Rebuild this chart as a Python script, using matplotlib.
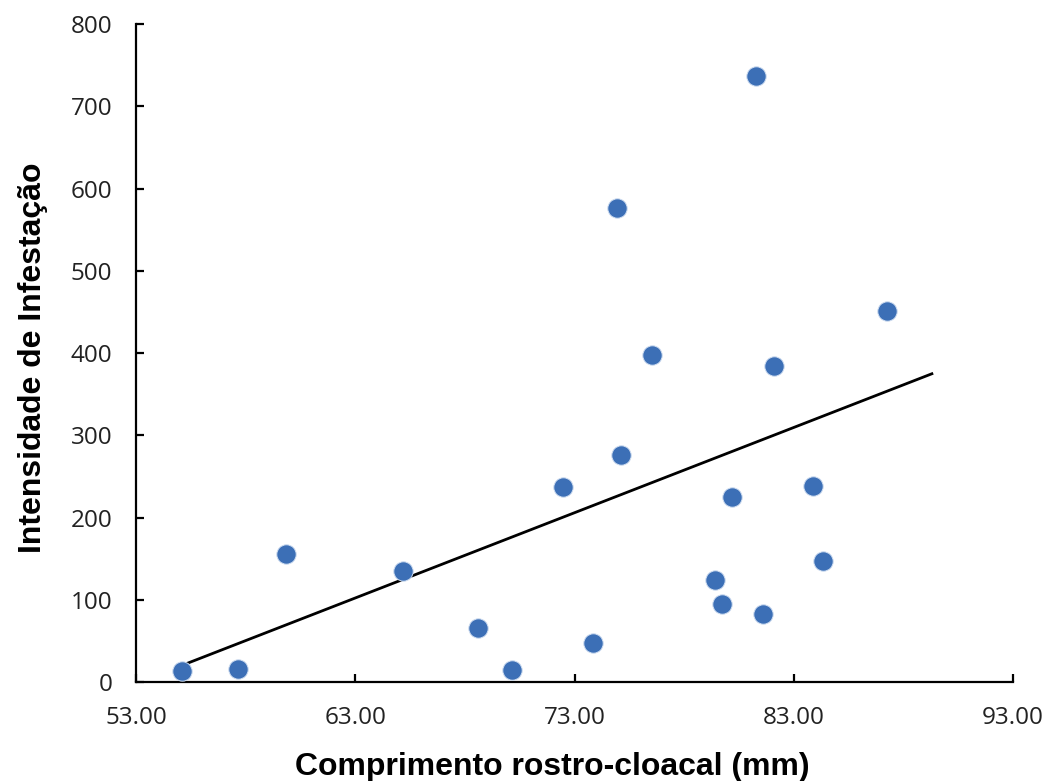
import matplotlib
matplotlib.use('Agg')
import matplotlib.pyplot as plt
import numpy as np
from matplotlib.ticker import FormatStrFormatter

# comprimento rostro-cloacal (mm) e intensidade de infestação
crc = [55.10, 57.65, 59.84, 65.18, 68.60, 70.15, 72.48, 73.84, 74.94, 75.12,
       76.53, 79.41, 79.73, 80.18, 81.28, 81.60, 82.10, 83.88, 84.33, 87.25]
intensidade = [13, 16, 156, 135, 66, 15, 237, 47, 577, 276,
               398, 124, 95, 225, 737, 83, 384, 238, 147, 451]

x_ticks = [53, 63, 73, 83, 93]
y_ticks = [0, 100, 200, 300, 400, 500, 600, 700, 800]
trend_end = 89.3  # linha de tendência prolongada

x = np.array(crc)
y = np.array(intensidade)

fig = plt.figure(figsize=(10.48, 7.81), dpi=100)
ax = fig.add_axes([0.1298, 0.1268, 0.8368, 0.8421])

# linha de tendência linear
coef = np.polyfit(x, y, 1)
xl = np.array([x.min(), trend_end])
ax.plot(xl, np.polyval(coef, xl), color='black', linewidth=2, zorder=2)

ax.scatter(x, y, s=195, color='#3c6fb6', edgecolors='#cddcf0', linewidths=0.7, zorder=3)

ax.set_xlim(53, 93)
ax.set_ylim(0, 800)
ax.set_xticks(x_ticks)
ax.set_yticks(y_ticks)
ax.xaxis.set_major_formatter(FormatStrFormatter('%.2f'))

for s in ['top', 'right']:
    ax.spines[s].set_visible(False)
for s in ['left', 'bottom']:
    ax.spines[s].set_linewidth(1.6)
    ax.spines[s].set_color('black')

ax.tick_params(axis='both', direction='in', length=6, width=1.6,
               labelsize=17.5, labelcolor='#222222', pad=17)
for lab in ax.get_xticklabels() + ax.get_yticklabels():
    lab.set_family('Open Sans')

ax.set_xlabel('Comprimento rostro-cloacal (mm)', fontsize=23, fontweight='bold',
              family='Liberation Sans')
ax.set_ylabel('Intensidade de Infestação', fontsize=23, fontweight='bold',
              family='Liberation Sans')
ax.xaxis.label.set_va('baseline')
ax.yaxis.label.set_va('baseline')
ax.xaxis.set_label_coords(0.4744, -0.1418)
ax.yaxis.set_label_coords(-0.1087, 0.493)

fig.savefig('out.png', dpi=100)
plt.close(fig)
